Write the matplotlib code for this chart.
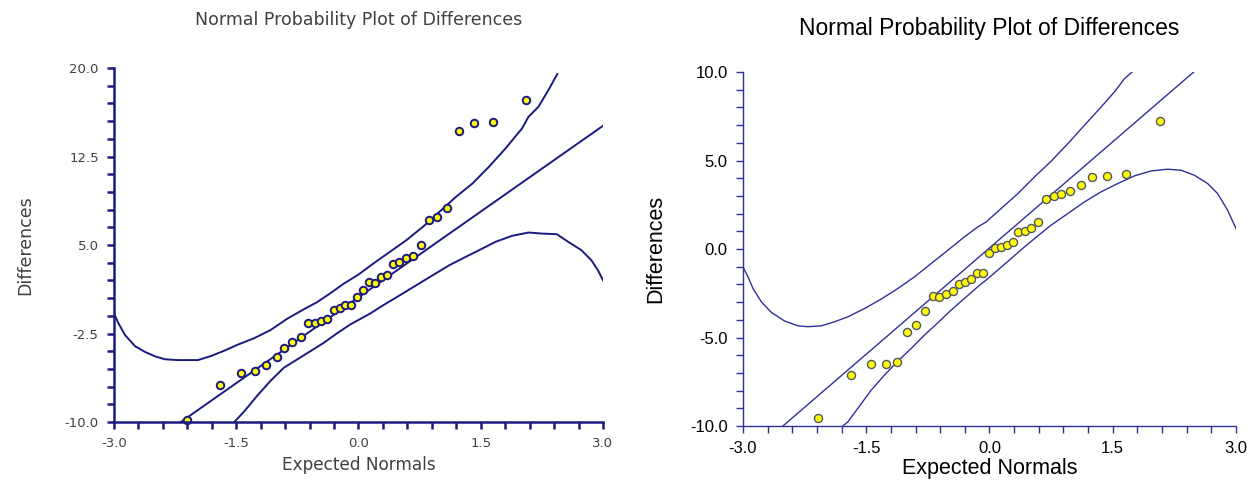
import matplotlib
matplotlib.use('Agg')
import matplotlib.pyplot as plt
import numpy as np
from matplotlib.ticker import MultipleLocator, FormatStrFormatter

# left panel (first dataset)
left_x = [-2.106, -1.696, -1.444, -1.27, -1.13, -1.0, -0.908, -0.81, -0.705, -0.618,
          -0.53, -0.464, -0.387, -0.304, -0.232, -0.164, -0.092, -0.02, 0.053, 0.126,
          0.198, 0.28, 0.348, 0.425, 0.502, 0.58, 0.67, 0.773, 0.865, 0.966,
          1.09, 1.232, 1.42, 1.652, 2.053]
left_y = [-9.8, -6.85, -5.84, -5.7, -5.16, -4.46, -3.73, -3.19, -2.77, -1.59,
          -1.59, -1.42, -1.25, -0.52, -0.3, -0.07, -0.1, 0.6, 1.16, 1.87,
          1.81, 2.32, 2.46, 3.36, 3.53, 3.86, 4.03, 5.04, 7.1, 7.4,
          8.1, 14.7, 15.3, 15.45, 17.33]
left_fit_x = [-2.18, 3.0]
left_fit_y = [-10.0, 15.1]
left_up_x = [-3.0, -2.943, -2.862, -2.74, -2.619, -2.497, -2.376, -2.213, -1.97, -1.808,
             -1.646, -1.483, -1.281, -1.078, -0.875, -0.672, -0.51, -0.348, -0.186, 0.0,
             0.182, 0.385, 0.588, 0.79, 0.993, 1.196, 1.398, 1.601, 1.804, 2.007,
             2.087, 2.209, 2.331, 2.44]
left_up_y = [-0.81, -1.66, -2.65, -3.58, -4.06, -4.43, -4.68, -4.75, -4.75, -4.4,
             -3.95, -3.45, -2.9, -2.2, -1.25, -0.45, 0.15, 0.9, 1.7, 2.5,
             3.43, 4.42, 5.41, 6.54, 7.81, 9.08, 10.21, 11.63, 13.18, 14.88,
             15.87, 16.72, 18.13, 19.49]
left_lo_x = [-1.516, -1.402, -1.24, -1.078, -0.916, -0.753, -0.591, -0.429, -0.267, -0.105,
             0.0, 0.142, 0.304, 0.507, 0.709, 0.912, 1.115, 1.317, 1.48, 1.682,
             1.885, 2.087, 2.25, 2.432, 2.574, 2.736, 2.858, 2.939, 3.0]
left_lo_y = [-9.94, -9.1, -7.75, -6.5, -5.4, -4.7, -4.0, -3.3, -2.5, -1.75,
             -1.35, -0.81, -0.1, 0.74, 1.59, 2.44, 3.29, 4.0, 4.56, 5.27,
             5.78, 6.06, 5.97, 5.92, 5.27, 4.56, 3.71, 2.86, 2.02]

# right panel (second dataset)
right_x = [-2.085, -1.681, -1.448, -1.263, -1.127, -1.0, -0.893, -0.786, -0.693, -0.611,
           -0.528, -0.45, -0.372, -0.294, -0.221, -0.148, -0.075, -0.007, 0.066, 0.139,
           0.212, 0.29, 0.348, 0.43, 0.509, 0.59, 0.689, 0.781, 0.869, 0.985,
           1.117, 1.253, 1.428, 1.667, 2.07]
right_y = [-9.57, -7.09, -6.47, -6.47, -6.41, -4.67, -4.29, -3.48, -2.68, -2.69,
           -2.56, -2.36, -1.96, -1.87, -1.7, -1.36, -1.38, -0.25, 0.03, 0.14,
           0.22, 0.37, 0.95, 1.02, 1.21, 1.53, 2.85, 3.0, 3.13, 3.26,
           3.63, 4.07, 4.14, 4.25, 7.24]
right_fit_x = [-2.514, 2.485]
right_fit_y = [-10.0, 10.0]
right_up_x = [-3.0, -2.939, -2.878, -2.777, -2.655, -2.493, -2.331, -2.21, -2.047, -1.885,
              -1.723, -1.52, -1.318, -1.115, -0.912, -0.71, -0.507, -0.304, -0.142, -0.04,
              0.142, 0.345, 0.547, 0.75, 0.953, 1.155, 1.358, 1.52, 1.642, 1.735]
right_up_y = [-1.01, -1.57, -2.23, -2.98, -3.58, -4.07, -4.34, -4.39, -4.34, -4.11,
              -3.83, -3.36, -2.83, -2.23, -1.57, -0.82, -0.07, 0.69, 1.25, 1.53,
              2.29, 3.13, 4.07, 4.96, 5.95, 6.99, 8.02, 8.87, 9.62, 10.0]
right_lo_x = [-1.784, -1.723, -1.602, -1.439, -1.277, -1.115, -0.953, -0.791, -0.629, -0.467,
              -0.304, -0.142, -0.04, 0.101, 0.263, 0.426, 0.588, 0.75, 0.953, 1.155,
              1.358, 1.561, 1.763, 1.966, 2.169, 2.331, 2.493, 2.655, 2.777, 2.898, 3.0]
right_lo_y = [-10.0, -9.76, -9.0, -7.97, -7.12, -6.33, -5.62, -4.86, -4.17, -3.45,
              -2.79, -2.13, -1.75, -1.19, -0.54, 0.12, 0.74, 1.35, 2.0, 2.66,
              3.23, 3.7, 4.13, 4.41, 4.51, 4.45, 4.17, 3.7, 3.13, 2.19, 1.16]

title = 'Normal Probability Plot of Differences'
navy = '#1a1a80'
navy2 = '#30309a'

fig = plt.figure(figsize=(12.58, 4.84), dpi=100)


def style_axes(ax, lw, col, txtcol, fs):
    ax.set_xlim(-3, 3)
    for s in ['top', 'right']:
        ax.spines[s].set_visible(False)
    for s in ['left', 'bottom']:
        ax.spines[s].set_color(col)
        ax.spines[s].set_linewidth(lw)
    ax.xaxis.set_major_locator(MultipleLocator(1.5))
    ax.xaxis.set_minor_locator(MultipleLocator(0.3))
    ax.xaxis.set_major_formatter(FormatStrFormatter('%.1f'))
    ax.yaxis.set_major_formatter(FormatStrFormatter('%.1f'))
    ax.tick_params(which='both', direction='out', length=5, width=lw, color=col,
                   labelcolor=txtcol, labelsize=fs, pad=6)


# left panel
ax1 = fig.add_axes([0.0906, 0.128, 0.3887, 0.7315])
ax1.plot(left_up_x, left_up_y, color=navy, lw=1.4)
ax1.plot(left_lo_x, left_lo_y, color=navy, lw=1.4)
ax1.plot(left_fit_x, left_fit_y, color=navy, lw=1.4)
ax1.plot(left_x, left_y, 'o', color='#ffff00', markeredgecolor=navy, markersize=5.4,
         markeredgewidth=1.4, clip_on=False)
style_axes(ax1, 1.8, navy, '#404040', 9.5)
ax1.set_ylim(-10, 20)
ax1.set_yticks(np.arange(-10, 20.1, 7.5))
ax1.set_yticks(np.arange(-10, 20.1, 1.5), minor=True)
ax1.set_title(title, color='#404040', fontsize=12.5, pad=31, family='DejaVu Sans')
ax1.set_xlabel('Expected Normals', color='#404040', fontsize=12.2, family='DejaVu Sans')
ax1.set_ylabel('Differences', color='#404040', fontsize=12.5, family='DejaVu Sans',
               labelpad=22)
for lab in ax1.get_xticklabels() + ax1.get_yticklabels():
    lab.set_family('DejaVu Sans')

# right panel
ax2 = fig.add_axes([0.5906, 0.1198, 0.3919, 0.7314])
ax2.plot(right_up_x, right_up_y, color=navy2, lw=1.0)
ax2.plot(right_lo_x, right_lo_y, color=navy2, lw=1.0)
ax2.plot(right_fit_x, right_fit_y, color=navy2, lw=1.0)
ax2.plot(right_x, right_y, 'o', color='#ffff00', markeredgecolor='#555566', markersize=5.8,
         markeredgewidth=1.0)
style_axes(ax2, 1.0, navy2, 'black', 12)
ax2.set_ylim(-10, 10)
ax2.yaxis.set_major_locator(MultipleLocator(5))
ax2.yaxis.set_minor_locator(MultipleLocator(1))
for lab in ax2.get_xticklabels() + ax2.get_yticklabels():
    lab.set_family('Liberation Sans')
ax2.set_title(title, color='black', fontsize=16.5, pad=27, family='Liberation Sans')
ax2.set_xlabel('Expected Normals', color='black', fontsize=15.5, labelpad=1,
               family='Liberation Sans')
ax2.set_ylabel('Differences', color='black', fontsize=15.5, labelpad=17,
               family='Liberation Sans')

plt.savefig('out.png')
